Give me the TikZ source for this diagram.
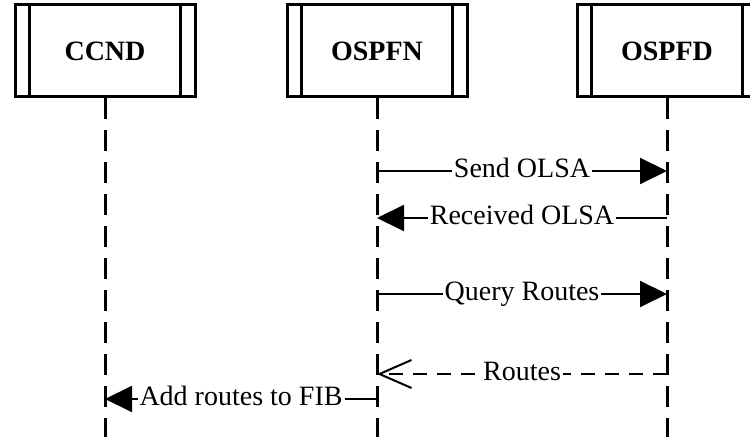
\documentclass[tikz,border=0pt]{standalone}
\usepackage{fontspec}
\setmainfont{Liberation Serif}
\usetikzlibrary{arrows.meta}

\begin{document}
\begin{tikzpicture}[
    x=0.5pt, y=-0.5pt,
    every node/.style={font=\fontsize{14}{16}\selectfont},
    actor/.style={draw, line width=1.5pt,
                  minimum width=90pt, minimum height=46pt, inner sep=0pt,
                  font=\fontsize{14}{16}\selectfont\bfseries},
    lifeline/.style={line width=1.5pt, dash pattern=on 10.5pt off 5.5pt},
    msg/.style={line width=1pt, -{Triangle[length=13.5pt,width=13pt]}},
    reply/.style={line width=1pt, dash pattern=on 7pt off 5pt,
                  -{Straight Barb[length=16pt,width=14pt,line width=1pt]}},
    msglabel/.style={fill=white, inner sep=1pt, text height=0.66em, text depth=0pt},
]

\clip (0,0) rectangle (750,437);

\node [actor] (ccnd)  at (105,51) {CCND};
\node [actor] (ospfn) at (377,51) {OSPFN};
\node [actor] (ospfd) at (667,51) {OSPFD};

\foreach \n in {ccnd,ospfn,ospfd} {
    \draw [line width=1.5pt]
        ([xshift=8pt]\n.north west) -- ([xshift=8pt]\n.south west)
        ([xshift=-8pt]\n.north east) -- ([xshift=-8pt]\n.south east);
    \coordinate (\n-end) at (\n |- 0,440);
    \draw [lifeline] (\n.south) -- (\n-end);
}

\coordinate (n1) at (ospfn |- 0,171);
\coordinate (d1) at (ospfd |- 0,171);
\coordinate (n2) at (ospfn |- 0,218);
\coordinate (d2) at (ospfd |- 0,218);
\coordinate (n3) at (ospfn |- 0,294);
\coordinate (d3) at (ospfd |- 0,294);
\coordinate (n4) at (ospfn |- 0,374);
\coordinate (d4) at (ospfd |- 0,374);
\coordinate (n5) at (ospfn |- 0,399);
\coordinate (c5) at (ccnd |- 0,399);

\draw [msg]   (n1) -- node [msglabel] {Send OLSA} (d1);
\draw [msg]   (d2) -- node [msglabel] {Received OLSA} (n2);
\draw [msg]   (n3) -- node [msglabel] {Query Routes} (d3);
\draw [reply] (d4) -- node [msglabel] {Routes} (n4);
\draw [msg]   (n5) -- node [msglabel] {Add routes to FIB} (c5);

\end{tikzpicture}
\end{document}
